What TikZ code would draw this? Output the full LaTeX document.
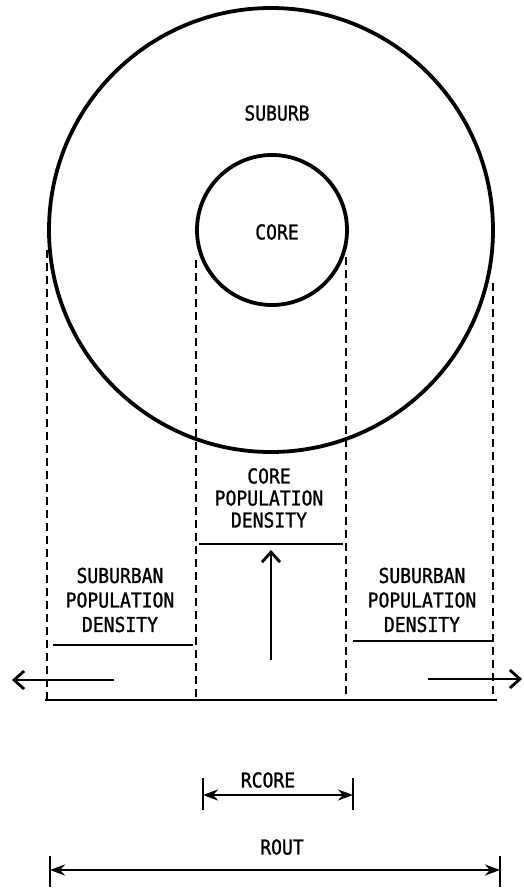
\documentclass[tikz,border=0pt]{standalone}
\usepackage{fontspec}
\newfontfamily\typo[FakeStretch=0.88,FakeBold=1.2]{DejaVu Sans Mono}
\usetikzlibrary{arrows.meta}
\begin{document}
\begin{tikzpicture}[x=1pt,y=-1pt,
  lbl/.style={font=\typo\fontsize{20.5}{22}\selectfont, align=center, inner sep=0pt},
  sidelbl/.style={font=\typo\fontsize{20.5}{24.5}\selectfont, align=center, inner sep=0pt},
  ring/.style={line width=3.8pt},
  guide/.style={line width=2.8pt, dash pattern=on 8pt off 5pt},
  level/.style={line width=2.8pt},
  flow/.style={line width=2.8pt, -{Straight Barb[length=10pt,width=18pt,line width=2.8pt]}},
  dimline/.style={line width=2.8pt, {Stealth[length=15pt,width=11pt]}-{Stealth[length=15pt,width=11pt]}},
  dimbar/.style={line width=2.8pt}]
\useasboundingbox (0,0) rectangle (524,888);

% circles
\draw[ring] (271,230) circle[radius=222];
\draw[ring] (272,230) circle[radius=75];
\node[lbl] (suburb) at (277,113) {SUBURB};
\node[lbl] (core) at (277,232) {CORE};

% guide coordinates
\coordinate (lot) at (47,250);  \coordinate (lob) at (47,700);
\coordinate (lit) at (196,260); \coordinate (lib) at (196,700);
\coordinate (rit) at (346,257); \coordinate (rib) at (346,700);
\coordinate (rot) at (493,283); \coordinate (rob) at (493,700);
\coordinate (bl) at (45,700);   \coordinate (br) at (497,700);

\draw[guide] (lot) -- (lob);
\draw[guide] (lit) -- (lib);
\draw[guide] (rit) -- (rib);
\draw[guide] (rot) -- (rob);
\draw[level] (bl) -- (br);

% density levels
\coordinate (cl) at (199,544); \coordinate (cr) at (343,544);
\coordinate (sll) at (53,645); \coordinate (slr) at (193,645);
\coordinate (srl) at (353,641); \coordinate (srr) at (493,641);
\draw[level] (cl) -- (cr);
\draw[level] (sll) -- (slr);
\draw[level] (srl) -- (srr);

\node[lbl] (cpd) at (269,498) {CORE\\POPULATION\\DENSITY};
\node[sidelbl] (spdl) at (120,600) {SUBURBAN\\POPULATION\\DENSITY};
\node[sidelbl] (spdr) at (422,600) {SUBURBAN\\POPULATION\\DENSITY};

% flow arrows
\coordinate (ua) at (271,660); \coordinate (ub) at (271,550);
\coordinate (la) at (114,680); \coordinate (lb) at (12,680);
\coordinate (ra) at (428,679); \coordinate (rb) at (522,679);
\draw[flow] (ua) -- (ub);
\draw[flow] (la) -- (lb);
\draw[flow] (ra) -- (rb);

% RCORE dimension
\coordinate (rc1t) at (203,778); \coordinate (rc1b) at (203,810);
\coordinate (rc2t) at (353,778); \coordinate (rc2b) at (353,810);
\coordinate (rc1) at (203,795); \coordinate (rc2) at (353,795);
\draw[dimbar] (rc1t) -- (rc1b);
\draw[dimbar] (rc2t) -- (rc2b);
\draw[dimline] (rc1) -- (rc2);
\node[lbl] (rcore) at (268,780) {RCORE};

% ROUT dimension
\coordinate (ro1t) at (50,856); \coordinate (ro1b) at (50,887);
\coordinate (ro2t) at (500,856); \coordinate (ro2b) at (500,887);
\coordinate (ro1) at (50,870); \coordinate (ro2) at (500,870);
\draw[dimbar] (ro1t) -- (ro1b);
\draw[dimbar] (ro2t) -- (ro2b);
\draw[dimline] (ro1) -- (ro2);
\node[lbl] (rout) at (282,847) {ROUT};
\end{tikzpicture}
\end{document}
